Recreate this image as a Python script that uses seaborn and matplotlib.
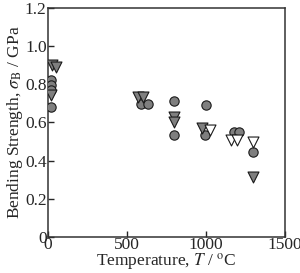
import matplotlib
matplotlib.use("Agg")
import matplotlib.pyplot as plt
import seaborn as sns
import pandas as pd

# Data
circ_T = [20, 20, 20, 20, 590, 630, 800, 800, 1000, 995, 1180, 1210, 1300]
circ_s = [0.823, 0.797, 0.77, 0.68, 0.695, 0.695, 0.713, 0.535, 0.69, 0.535, 0.55, 0.55, 0.445]

gtri_T = [25, 50, 20, 570, 600, 800, 800, 975, 1300]
gtri_s = [0.90, 0.89, 0.744, 0.735, 0.735, 0.63, 0.60, 0.57, 0.315]

otri_T = [1025, 1160, 1195, 1300]
otri_s = [0.56, 0.51, 0.51, 0.50]

x_ticks = [0, 500, 1000, 1500]
y_ticks = [0, 0.2, 0.4, 0.6, 0.8, 1.0, 1.2]
y_ticklabels = ["0", "0.2", "0.4", "0.6", "0.8", "1.0", "1.2"]

sns.set_style("ticks")
plt.rcParams["font.family"] = ["Liberation Serif", "DejaVu Serif"]
plt.rcParams["mathtext.fontset"] = "stix"

fig = plt.figure(figsize=(3.0, 2.73), dpi=100)
ax = fig.add_axes([0.16, 0.132, 0.79, 0.839])

df_c = pd.DataFrame({"T": circ_T, "s": circ_s})
df_g = pd.DataFrame({"T": gtri_T, "s": gtri_s})
df_o = pd.DataFrame({"T": otri_T, "s": otri_s})

sns.scatterplot(data=df_c, x="T", y="s", marker="o", s=45, color="#7f7f7f",
                edgecolor="#1a1a1a", linewidth=0.8, ax=ax, zorder=3)
sns.scatterplot(data=df_g, x="T", y="s", marker="v", s=62, color="#7f7f7f",
                edgecolor="#1a1a1a", linewidth=0.8, ax=ax, zorder=3)
sns.scatterplot(data=df_o, x="T", y="s", marker="v", s=62, color="white",
                edgecolor="#1a1a1a", linewidth=0.8, ax=ax, zorder=3)

ax.set_xlim(0, 1500)
ax.set_ylim(0, 1.2)
ax.set_xticks(x_ticks)
ax.set_yticks(y_ticks)
ax.set_yticklabels(y_ticklabels)
ax.tick_params(direction="in", length=4, width=1, labelsize=12.5,
               top=False, right=False)
ax.tick_params(axis="x", pad=0)
ax.tick_params(axis="y", pad=1)
for sp in ax.spines.values():
    sp.set_linewidth(1.1)
    sp.set_color("#333333")

ax.set_xlabel(r"Temperature, $\it{T}$ / $^{\rm o}$C", fontsize=12.5, labelpad=-1)
ax.set_ylabel(r"Bending Strength, $\sigma_{\rm B}$ / GPa", fontsize=12.5, labelpad=0)

fig.savefig("out.png", dpi=100)
